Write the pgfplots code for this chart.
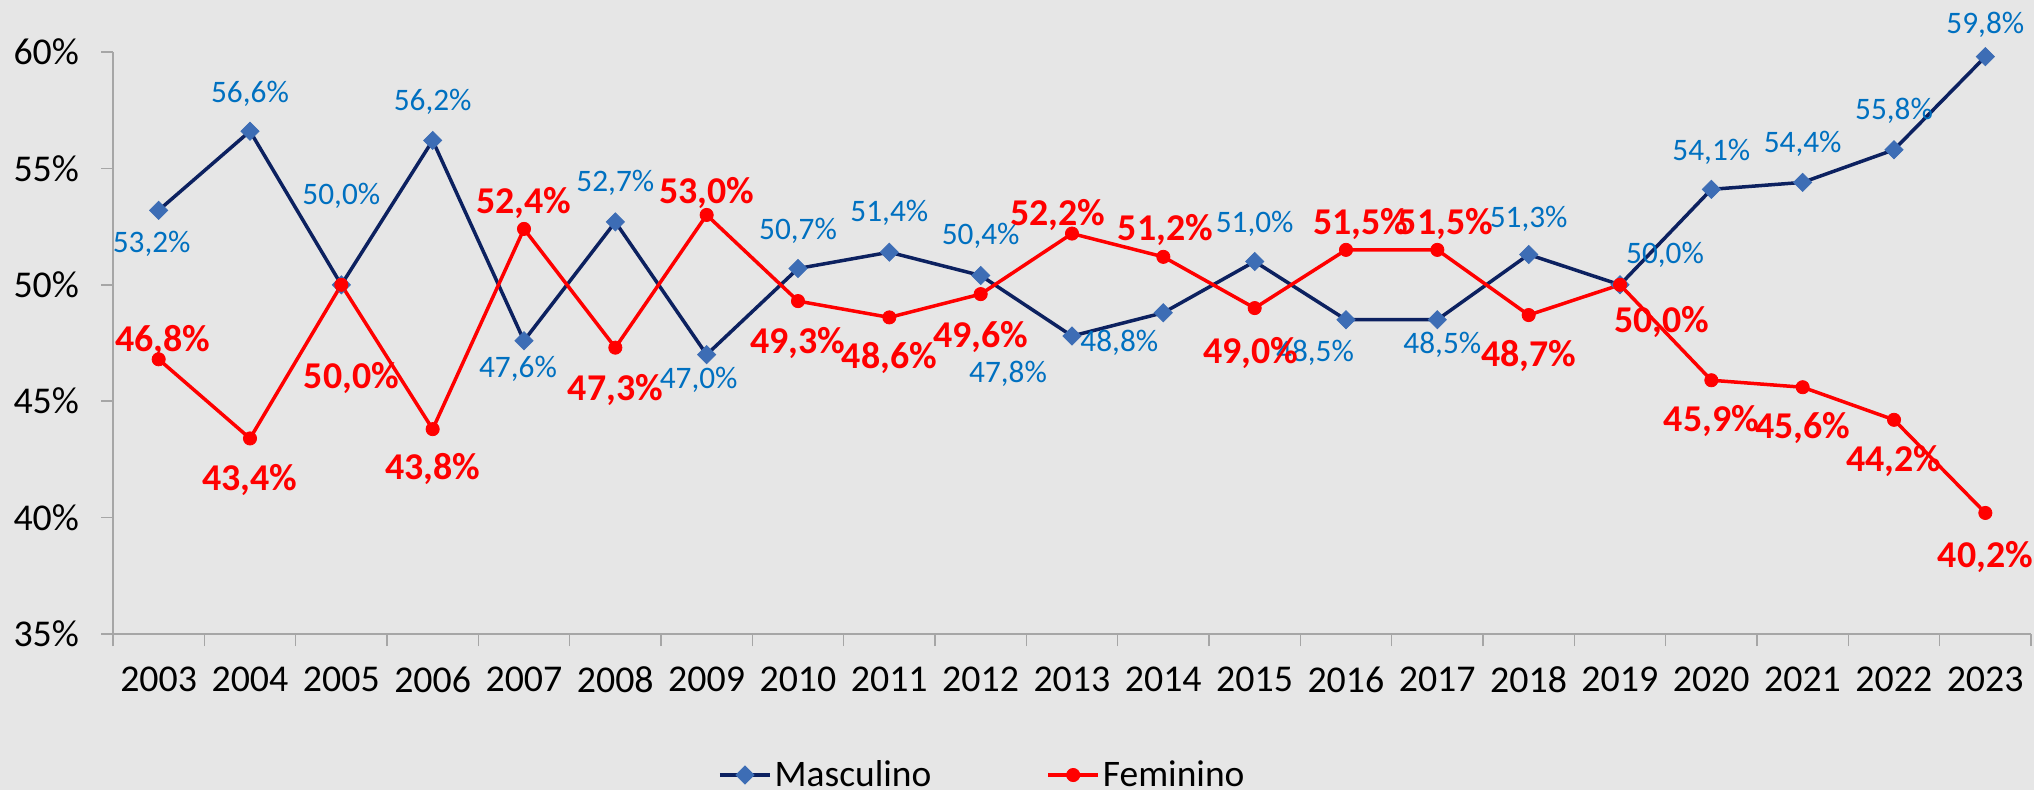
\documentclass[border=0pt]{standalone}
\usepackage{fontspec}
\setmainfont{Carlito}
\usepackage{pgfplots}
\usepackage{pgfplotstable}
\pgfplotsset{compat=1.18}
\definecolor{bg}{HTML}{E6E6E6}
\definecolor{navy}{HTML}{0C2160}
\definecolor{mfill}{HTML}{3D6DB5}
\definecolor{lblue}{HTML}{0070C0}
\definecolor{axgray}{HTML}{A6A6A6}

\pgfplotstableread{
x y dx dy lab
2003 53.2 -3.5 -17 53,2
2004 56.6 0 18.5 56,6
2005 50.0 0 44.5 50,0
2006 56.2 0 19.5 56,2
2007 47.6 -3 -14 47,6
2008 52.7 0 19.5 52,7
2009 47.0 -4 -12.5 47,0
2010 50.7 0 19 50,7
2011 51.4 0 19.5 51,4
2012 50.4 0 20 50,4
2013 47.8 -32 -19 47,8
2014 48.8 -22 -15 48,8
2015 51.0 0 19 51,0
2016 48.5 -15.5 -16.5 48,5
2017 48.5 2.5 -12.5 48,5
2018 51.3 0 18 51,3
2019 50.0 22.5 15 50,0
2020 54.1 0 19 54,1
2021 54.4 0 19.5 54,4
2022 55.8 0 19.5 55,8
2023 59.8 0 16 59,8
}\masc

\pgfplotstableread{
x y dx dy lab
2003 46.8 2 9 46,8
2004 43.4 0 -21 43,4
2005 50.0 5 -46.5 50,0
2006 43.8 0 -20 43,8
2007 52.4 0 13 52,4
2008 47.3 0 -21 47,3
2009 53.0 0 11 53,0
2010 49.3 0 -21 49,3
2011 48.6 0 -20.5 48,6
2012 49.6 0 -21.5 49,6
2013 52.2 -7 9.5 52,2
2014 51.2 1 13.5 51,2
2015 49.0 -2 -22.5 49,0
2016 51.5 7.5 13 51,5
2017 51.5 4 13 51,5
2018 48.7 0 -20.5 48,7
2019 50.0 21 -18.5 50,0
2020 45.9 0 -20.5 45,9
2021 45.6 0 -20.5 45,6
2022 44.2 0 -20.5 44,2
2023 40.2 0 -22 40,2
}\fem

\begin{document}
\begin{tikzpicture}
\path[use as bounding box, fill=bg] (0,0) rectangle (1017bp,395bp);
\begin{axis}[
  at={(56.5bp,78bp)}, anchor=south west,
  scale only axis, width=959bp, height=291bp,
  xmin=2002.5, xmax=2023.5, ymin=35, ymax=60,
  clip=false,
  axis x line*=bottom, axis y line*=left,
  x axis line style={axgray, line width=1.1bp},
  y axis line style={axgray, line width=0.75bp},
  tick align=outside,
  major tick length=6bp, minor tick length=6bp,
  xtick={2003,2004,...,2023},
  xticklabels={2003,2004,2005,2006,2007,2008,2009,2010,2011,2012,2013,2014,2015,2016,2017,2018,2019,2020,2021,2022,2023},
  minor xtick={2002.5,2003.5,...,2023.5},
  major x tick style={draw=none},
  minor x tick style={axgray, line width=0.75bp},
  ytick={35,40,45,50,55,60},
  yticklabels={35\%,40\%,45\%,50\%,55\%,60\%},
  major y tick style={axgray, line width=0.75bp},
  tick label style={font=\fontsize{19}{22}\selectfont, black},
  xticklabel style={yshift=-7bp},
  yticklabel style={xshift=-7.5bp},
  legend style={at={(0.4535,-0.2423)}, anchor=center, legend columns=2,
    draw=none, fill=none, font=\fontsize{18.8}{22}\selectfont,
    nodes={inner sep=1.5bp},
    /tikz/every even column/.append style={column sep=56bp}},
  legend cell align=left,
  legend image code/.code={\draw[mark repeat=2, mark phase=2] plot coordinates {(0bp,0bp)(12.5bp,0bp)(25bp,0bp)};},
]
\addplot[navy, line width=1.75bp, mark=square*, mark size=3.2bp,
  mark options={rotate=45, fill=mfill, draw=mfill, line width=0.4pt},
  point meta=explicit symbolic,
  visualization depends on={\thisrow{dx}\as\ldx},
  visualization depends on={\thisrow{dy}\as\ldy},
  nodes near coords={\pgfplotspointmeta\%},
  nodes near coords align=center,
  every node near coord/.append style={anchor=center, xshift=\ldx bp, yshift=\ldy bp, text=lblue, font=\fontsize{15.7}{18}\selectfont},
] table[x=x, y=y, meta=lab] {\masc};
\addlegendentry{Masculino}
\addplot[red, line width=1.75bp, mark=*, mark size=3.3bp,
  mark options={fill=red, draw=red, line width=0.4pt},
  point meta=explicit symbolic,
  visualization depends on={\thisrow{dx}\as\ldx},
  visualization depends on={\thisrow{dy}\as\ldy},
  nodes near coords={\pgfplotspointmeta\%},
  nodes near coords align=center,
  every node near coord/.append style={anchor=center, xshift=\ldx bp, yshift=\ldy bp, text=red, font=\fontsize{19}{22}\selectfont\bfseries},
] table[x=x, y=y, meta=lab] {\fem};
\addlegendentry{Feminino}
\end{axis}
\end{tikzpicture}
\end{document}
